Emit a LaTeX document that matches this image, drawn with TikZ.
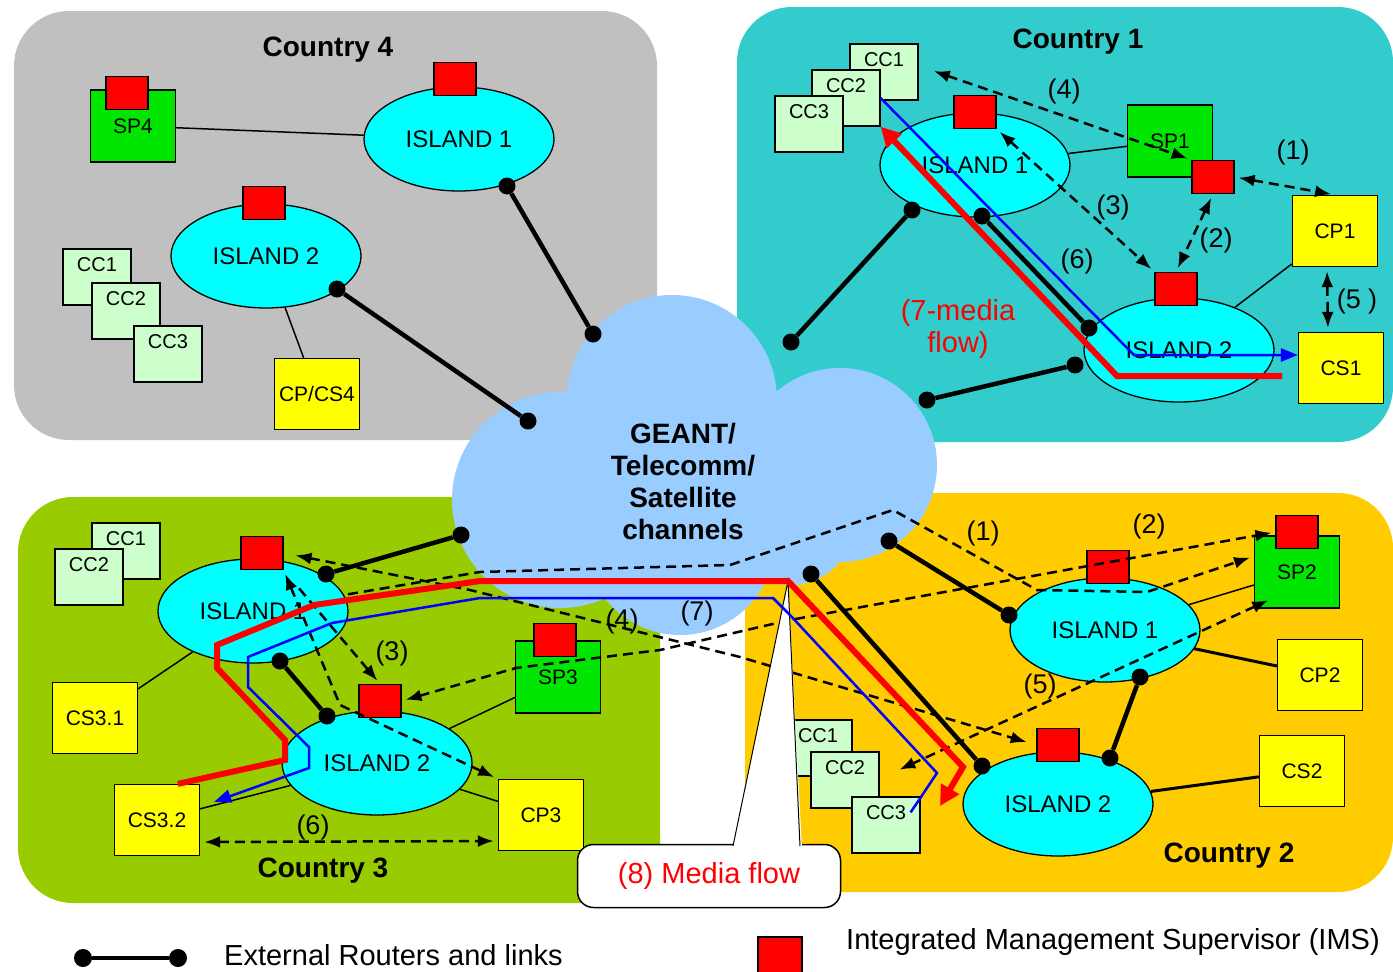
\documentclass[tikz,border=0pt]{standalone}
\usepackage{fontspec}
\setmainfont{Liberation Sans}
\usetikzlibrary{calc,positioning,shapes.geometric,arrows.meta}

\definecolor{countrygray}{HTML}{C0C0C0}
\definecolor{countryteal}{HTML}{33CCCC}
\definecolor{countrygreen}{HTML}{99CC00}
\definecolor{countryorange}{HTML}{FFCC00}
\definecolor{cloudblue}{HTML}{99CCFF}
\definecolor{islandcyan}{HTML}{00FFFF}
\definecolor{spgreen}{HTML}{00E600}
\definecolor{ccgreen}{HTML}{CCFFCC}
\definecolor{cpyellow}{HTML}{FFFF00}
\definecolor{imsred}{HTML}{FF0000}
\definecolor{flowblue}{HTML}{0000FF}

\tikzset{
      country/.style = { rounded corners=55pt },
    cloudtext/.style = { align=center, font=\bfseries\fontsize{28}{32}\selectfont },
        title/.style = { font=\bfseries\fontsize{28}{30}\selectfont },
       island/.style = { ellipse, draw, line width=1.3pt, fill=islandcyan, minimum width=190pt, minimum height=104pt, inner sep=0pt, font=\fontsize{24}{26}\selectfont },
          ims/.style = { draw, line width=1.3pt, fill=imsred, minimum width=42pt, minimum height=33pt, inner sep=0pt },
        spbox/.style = { draw, line width=1.3pt, fill=spgreen, minimum width=85pt, minimum height=72pt, inner sep=0pt, font=\fontsize{21}{23}\selectfont },
        cpbox/.style = { draw, line width=1.3pt, fill=cpyellow, minimum width=85pt, minimum height=71pt, inner sep=0pt, font=\fontsize{21}{23}\selectfont },
        ccbox/.style = { draw, line width=1.3pt, fill=ccgreen, minimum width=68pt, inner sep=3pt, text height=19pt, text depth=31pt, font=\fontsize{20}{22}\selectfont },
       router/.style = { circle, fill=black, inner sep=0pt, minimum size=17pt },
       extern/.style = { line width=4.5pt },
         link/.style = { line width=1.5pt },
       signal/.style = { line width=2.5pt, dash pattern=on 10pt off 6pt, >={Latex[length=16pt,width=12pt]}, shorten <=4pt, shorten >=4pt },
     mediared/.style = { imsred, line width=6pt, line join=miter, >={Triangle[length=20pt,width=20pt]} },
    mediablue/.style = { flowblue, line width=2.5pt, >={Triangle[length=17pt,width=13pt]} },
          num/.style = { font=\fontsize{27}{29}\selectfont },
      callout/.style = { draw, line width=1.5pt, fill=white, rounded corners=16pt, minimum width=263pt, minimum height=63pt, text=imsred, font=\fontsize{29}{31}\selectfont },
   legendtext/.style = { anchor=west, inner sep=0pt, font=\fontsize{29}{31}\selectfont }
}

\begin{document}
\begin{tikzpicture}[x=1pt, y=-1pt]
  \useasboundingbox (0,0) rectangle (1393,972);

  % countries
  \fill[countrygray,  country] (14,11)  rectangle (657,440);
  \fill[countryteal,  country] (737,7)  rectangle (1393,442);
  \fill[countrygreen, country] (18,497) rectangle (660,903);
  \fill[countryorange,country] (745,493) rectangle (1393,892);

  % cloud
  \fill[cloudblue] (672,400) circle[radius=105] (840,465) circle[radius=97]
                   (560,500) circle[radius=108] (680,540) circle[radius=95]
                   (790,520) circle[radius=65];
  \node[cloudtext] (geant) at (683,481) {GEANT/\\Telecomm/\\Satellite\\channels};

  \node[title] (c4title) at (328,50)  {Country 4};
  \node[title] (c1title) at (1078,42) {Country 1};
  \node[title] (c3title) at (323,871) {Country 3};
  \node[title] (c2title) at (1229,856) {Country 2};

  % country 4
  \node[ccbox] (c4cc1) at (97,277)  {CC1};
  \node[ccbox] (c4cc2) at (126,311) {CC2};
  \node[ccbox] (c4cc3) at (168,354) {CC3};
  \node[island] (c4isl1) at (459,139) {ISLAND 1};
  \node[island] (c4isl2) at (266,256) {ISLAND 2};
  \node[spbox] (c4sp) at (133,126) {SP4};
  \node[cpbox] (c4cp) at (317,394) {CP/CS4};
  \node[ims] (c4spims) at (127,93)  {};
  \node[ims] (c4ims1)  at (455,79)  {};
  \node[ims] (c4ims2)  at (264,203) {};
  \draw[link] (c4sp) -- (c4isl1);
  \draw[link] (c4isl2) -- (c4cp);
  \node[router] (c4r1) at (507,186) {};
  \node[router] (c4g1) at (593,334) {};
  \node[router] (c4r2) at (337,289) {};
  \node[router] (c4g2) at (528,421) {};
  \draw[extern] (c4r1) -- (c4g1);
  \draw[extern] (c4r2) -- (c4g2);

  % country 1
  \node[ccbox] (c1cc1) at (884,72)  {CC1};
  \node[ccbox] (c1cc2) at (846,98)  {CC2};
  \node[ccbox] (c1cc3) at (809,124) {CC3};
  \node[island] (c1isl1) at (975,165)  {ISLAND 1};
  \node[island] (c1isl2) at (1179,350) {ISLAND 2};
  \node[spbox] (c1sp) at (1170,141) {SP1};
  \node[cpbox] (c1cp) at (1335,231) {CP1};
  \node[cpbox] (c1cs) at (1341,368) {CS1};
  \node[ims] (c1spims) at (1213,177) {};
  \node[ims] (c1ims1)  at (975,112)  {};
  \node[ims] (c1ims2)  at (1176,289) {};
  \draw[link] (c1isl1) -- (c1sp);
  \draw[link] (c1isl2) -- (c1cp);
  \node[router] (c1r1) at (912,210)  {};
  \node[router] (c1g1) at (791,342)  {};
  \node[router] (c1r2) at (982,216)  {};
  \node[router] (c1r3) at (1089,328) {};
  \node[router] (c1r4) at (1075,365) {};
  \node[router] (c1g2) at (927,400)  {};
  \draw[extern] (c1r1) -- (c1g1);
  \draw[extern] (c1r2) -- (c1r3);
  \draw[extern] (c1r4) -- (c1g2);

  % country 3
  \node[ccbox] (c3cc1) at (126,551) {CC1};
  \node[ccbox] (c3cc2) at (89,577)  {CC2};
  \node[island] (c3isl1) at (253,611) {ISLAND 1};
  \node[island] (c3isl2) at (377,763) {ISLAND 2};
  \node[cpbox] (c3cs1) at (95,718)  {CS3.1};
  \node[cpbox] (c3cs2) at (157,820) {CS3.2};
  \node[cpbox] (c3cp)  at (541,815) {CP3};
  \node[spbox] (c3sp)  at (558,677) {SP3};
  \node[ims] (c3spims) at (555,640) {};
  \node[ims] (c3ims1)  at (262,553) {};
  \node[ims] (c3ims2)  at (380,701) {};
  \draw[link] (c3isl1) -- (c3cs1);
  \draw[link] (c3isl2) -- (c3cs2);
  \draw[link] (c3isl2) -- (c3cp);
  \draw[link] (c3sp) -- (c3isl2);
  \node[router] (c3g1) at (461,535) {};
  \node[router] (c3r1) at (326,574) {};
  \node[router] (c3r2) at (280,661) {};
  \node[router] (c3r3) at (327,716) {};
  \draw[extern] (c3g1) -- (c3r1);
  \draw[extern] (c3r2) -- (c3r3);

  % country 2
  \node[ccbox] (c2cc1) at (818,748) {CC1};
  \node[ccbox] (c2cc2) at (845,780) {CC2};
  \node[ccbox] (c2cc3) at (886,825) {CC3};
  \node[island] (c2isl1) at (1105,630) {ISLAND 1};
  \node[island] (c2isl2) at (1058,804) {ISLAND 2};
  \node[spbox] (c2sp) at (1297,572) {SP2};
  \node[cpbox] (c2cp) at (1320,675) {CP2};
  \node[cpbox] (c2cs) at (1302,771) {CS2};
  \node[ims] (c2spims) at (1297,532) {};
  \node[ims] (c2ims1)  at (1108,567) {};
  \node[ims] (c2ims2)  at (1058,745) {};
  \draw[link] (c2isl1) -- (c2sp);
  \draw[link, line width=3pt] (c2isl1) -- (c2cp);
  \draw[link, line width=3pt] (c2isl2) -- (c2cs);
  \node[router] (c2g1) at (889,541)  {};
  \node[router] (c2r1) at (1009,615) {};
  \node[router] (c2g2) at (811,574)  {};
  \node[router] (c2r2) at (982,766)  {};
  \node[router] (c2r3) at (1140,677) {};
  \node[router] (c2r4) at (1110,758) {};
  \draw[extern] (c2g1) -- (c2r1);
  \draw[extern] (c2g2) -- (c2r2);
  \draw[extern] (c2r3) -- (c2r4);

  % signalling
  \draw[signal,<->,shorten <=16pt] (c1cc1.10) -- (c1spims.north west);
  \draw[signal,<->] (c1ims1.south east) -- (c1ims2.north west);
  \draw[signal,<->] (c1spims.south) -- (c1ims2.north);
  \draw[signal,<->] (c1spims.east) -- (c1cp.north);
  \draw[signal,<->] ([xshift=-8pt]c1cp.south) -- ([xshift=-13pt]c1cs.north);

  \draw[signal,<->] ([yshift=-22pt]c3cs2.east) -- ([yshift=-26pt]c3cp.west);
  \draw[signal,->,shorten <=24pt] (c3ims1.south east) -- (c3ims2.north);
  \draw[signal,<->] (c3ims1.south east) -- (340,705) -- (c3cp.north west);
  \draw[signal,<->,shorten <=12pt,shorten >=10pt] (c3ims1.east) -- (470,590) -- (740,657) -- (c2ims2.west);
  \draw[signal,<->] (c3ims2.east) -- (516,668) -- (660,650) -- (790,620) -- (c2spims.west);
  \draw[signal,->] (c3isl1.10) -- (480,572) -- (730,565) -- (893,510) -- (1037,590) -- (1147,592) -- (c2sp.160);
  \draw[signal,<->] ([xshift=18pt,yshift=10pt]c2sp.south west) -- ([xshift=16pt,yshift=-20pt]c2cc2.north east);

  % media flow callout
  \coordinate (flowtip) at (788,581);
  \node[callout] (mediabox) at (709,876) {(8) Media flow};
  \fill[white] (flowtip) -- (733,849) -- (802,849) -- cycle;
  \draw[line width=1pt] (733,846) -- (flowtip) -- (800,846);

  % media flows
  \coordinate (c1redstart) at (1282,376);
  \coordinate (c2redtip) at (940,806);
  \draw[mediablue,->] (c1cc2.east) -- (1134,355) -- ([yshift=13pt]c1cs.west);
  \draw[mediared,->] (c1redstart) -- (1117,376) -- (c1cc2.south east);
  \draw[mediablue,->] ([xshift=-10pt,yshift=-16pt]c2cc3.north east) -- (937,773) -- (790,615) -- (773,598)
    -- (480,598) -- (332,623) -- (248,657) -- (248,687) -- (309,747) -- (309,768)
    -- ([xshift=14pt,yshift=-18pt]c3cs2.north east);
  \draw[mediared,->] (c3cs2.60) -- (285,760) -- (285,740) -- (217,668) -- (217,645) -- (314,605)
    -- (480,581) -- (flowtip) -- (963,767) -- (c2redtip);

  % step labels
  \node[num] (c1n4) at (1064,92)  {(4)};
  \node[num] (c1n3) at (1113,208) {(3)};
  \node[num] (c1n2) at (1216,241) {(2)};
  \node[num] (c1n1) at (1293,153) {(1)};
  \node[num] (c1n5) at (1357,302) {(5 )};
  \node[num] (c1n6) at (1077,262) {(6)};
  \node[num, text=imsred, align=center, font=\fontsize{29}{32}\selectfont] (c1n7) at (958,329) {(7-media\\flow)};
  \node[num] (c3n3) at (392,654) {(3)};
  \node[num] (c3n4) at (622,622) {(4)};
  \node[num] (c3n7) at (697,614) {(7)};
  \node[num] (c3n6) at (313,828) {(6)};
  \node[num] (c2n1) at (983,534)  {(1)};
  \node[num] (c2n2) at (1149,527) {(2)};
  \node[num] (c2n5) at (1040,687) {(5)};

  % legend
  \node[router, minimum size=18pt] (lega) at (83,958)  {};
  \node[router, minimum size=18pt] (legb) at (178,958) {};
  \draw[extern] (lega) -- (legb);
  \node[legendtext] (legrouter) at (224,955) {External Routers and links};
  \node[ims, minimum width=44pt, minimum height=36pt] (legims) at (780,955) {};
  \node[legendtext] (legimstext) at (846,942) {Integrated Management Supervisor (IMS)};
\end{tikzpicture}
\end{document}
